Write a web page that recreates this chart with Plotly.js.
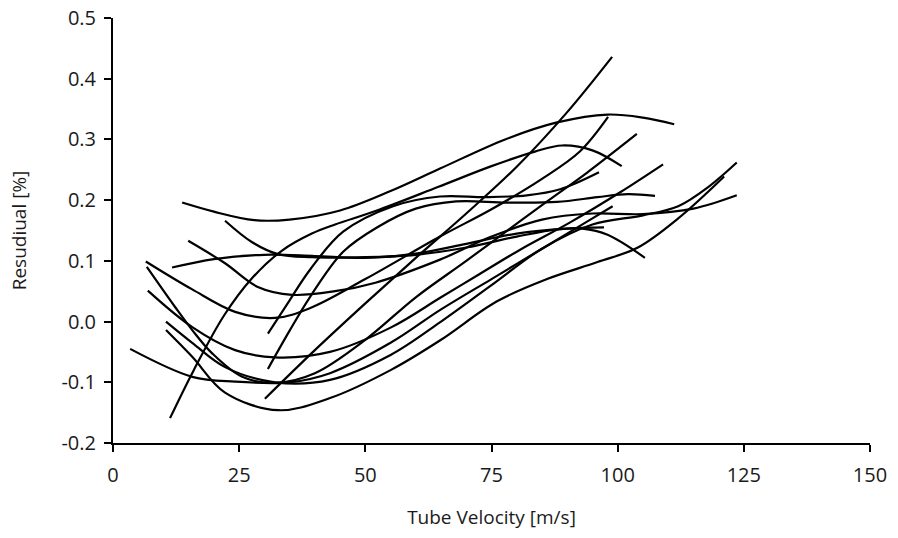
<!DOCTYPE html>
<html><head><meta charset="utf-8">
<script src="https://cdn.plot.ly/plotly-3.0.1.min.js"></script>
<style>html,body{margin:0;padding:0;background:#fff}</style>
</head><body><div id="chart" style="width:898px;height:538px"></div>
<script>
// Residual curves (x: tube velocity m/s, y: residual %)
const c1x = [13.7, 20, 28, 35, 45, 55, 64.8, 77.7, 88, 98, 105, 111.2];
const c1y = [0.196, 0.181, 0.167, 0.168, 0.183, 0.215, 0.252, 0.3, 0.328, 0.341, 0.336, 0.325];
const c2x = [11.3, 16, 22, 27.5, 33.5, 39.4, 44, 52, 64.5, 75, 83.6, 89, 95, 100.8];
const c2y = [-0.159, -0.08, 0.01, 0.071, 0.117, 0.145, 0.16, 0.182, 0.222, 0.256, 0.28, 0.29, 0.282, 0.256];
const c3x = [30.1, 40, 50, 60, 70, 80, 90, 98.9];
const c3y = [-0.127, -0.047, 0.03, 0.105, 0.178, 0.255, 0.345, 0.436];
const c4x = [30.7, 35, 39, 45.6, 55.5, 64.8, 74, 82, 88.6, 96.3];
const c4y = [-0.02, 0.035, 0.085, 0.148, 0.19, 0.206, 0.205, 0.208, 0.218, 0.246];
const c5x = [30.7, 35, 39, 45.6, 52.3, 60, 68, 78, 88, 96, 102, 107.4];
const c5y = [-0.078, -0.015, 0.04, 0.115, 0.155, 0.186, 0.198, 0.196, 0.197, 0.205, 0.21, 0.207];
const c6x = [22.2, 27.5, 32.7, 39.4, 50, 60, 70, 80, 88, 93, 98, 105.4];
const c6y = [0.166, 0.131, 0.111, 0.106, 0.106, 0.11, 0.122, 0.14, 0.152, 0.153, 0.143, 0.105];
const c7x = [11.7, 20, 30, 40, 50, 60, 70, 80, 90, 97.3];
const c7y = [0.089, 0.103, 0.11, 0.108, 0.105, 0.112, 0.128, 0.145, 0.153, 0.155];
const c8x = [14.9, 22.2, 28.7, 35.5, 44, 52, 64.8, 75, 85, 95, 105, 115, 123.6];
const c8y = [0.133, 0.096, 0.057, 0.044, 0.05, 0.064, 0.102, 0.14, 0.168, 0.178, 0.177, 0.186, 0.208];
const c9x = [6.5, 15.7, 24.2, 32.1, 39, 50, 64.8, 75, 85, 92.5, 98.1];
const c9y = [0.099, 0.053, 0.016, 0.006, 0.022, 0.07, 0.14, 0.185, 0.235, 0.28, 0.337];
const c10x = [6.7, 12.3, 15.7, 19.6, 25.6, 32.1, 40, 50, 60, 70, 80.6, 87.2, 93.9, 103.8];
const c10y = [0.09, 0.024, -0.014, -0.052, -0.091, -0.101, -0.085, -0.03, 0.04, 0.1, 0.165, 0.205, 0.245, 0.309];
const c11x = [6.9, 15.7, 24.2, 32.1, 43, 55, 65, 72, 80.6, 90.5, 100.5, 109];
const c11y = [0.051, -0.009, -0.047, -0.059, -0.05, -0.01, 0.04, 0.075, 0.118, 0.163, 0.213, 0.259];
const c12x = [10.5, 15.7, 22.2, 32.1, 43, 55, 65, 75, 85, 95, 105, 112, 118, 123.6];
const c12y = [0.0, -0.035, -0.075, -0.1, -0.096, -0.055, 0.0, 0.06, 0.12, 0.16, 0.175, 0.19, 0.222, 0.262];
const c13x = [10.5, 15.7, 22.2, 32.7, 43, 55, 65, 76, 86, 96, 104, 112, 121.1];
const c13y = [-0.014, -0.058, -0.117, -0.146, -0.126, -0.08, -0.03, 0.033, 0.07, 0.098, 0.122, 0.17, 0.239];
const c14x = [3.4, 15.7, 24.2, 35, 43, 55, 65, 75, 85, 95, 99];
const c14y = [-0.045, -0.091, -0.099, -0.1, -0.085, -0.035, 0.02, 0.07, 0.12, 0.17, 0.19];

const xTicks = [0, 25, 50, 75, 100, 125, 150];
const yTicks = [-0.2, -0.1, 0.0, 0.1, 0.2, 0.3, 0.4, 0.5];

const series = [[c1x,c1y],[c2x,c2y],[c3x,c3y],[c4x,c4y],[c5x,c5y],[c6x,c6y],[c7x,c7y],
  [c8x,c8y],[c9x,c9y],[c10x,c10y],[c11x,c11y],[c12x,c12y],[c13x,c13y],[c14x,c14y]];

const traces = series.map(s => ({
  x: s[0], y: s[1], type: 'scatter', mode: 'lines',
  line: {color: '#000', width: 2.2, shape: 'spline', smoothing: 1},
  showlegend: false, hoverinfo: 'skip'
}));

const fontFam = 'Open Sans, Liberation Sans, sans-serif';
const txt = '#1a1a1a';
const layout = {
  width: 898, height: 538,
  margin: {l: 113, r: 28, t: 18, b: 95},
  paper_bgcolor: '#fff', plot_bgcolor: '#fff',
  font: {family: fontFam, color: txt, size: 20},
  xaxis: {
    range: [0, 150], tickvals: xTicks, ticktext: xTicks.map(String),
    showgrid: false, zeroline: false, showline: true, linecolor: '#000', linewidth: 2,
    ticks: 'outside', ticklen: 7, tickwidth: 2, tickcolor: '#000', ticklabelstandoff: 6,
    tickfont: {family: fontFam, size: 20, color: txt},
    title: {text: 'Tube Velocity [m/s]', font: {family: fontFam, size: 19, color: txt}, standoff: 24}
  },
  yaxis: {
    range: [-0.2, 0.5], tickvals: yTicks, ticktext: yTicks.map(v => v.toFixed(1)),
    showgrid: false, zeroline: false, showline: true, linecolor: '#000', linewidth: 2,
    ticks: 'outside', ticklen: 7, tickwidth: 2, tickcolor: '#000', ticklabelstandoff: 4,
    tickfont: {family: fontFam, size: 20, color: txt},
    title: {text: 'Resudiual [%]', font: {family: fontFam, size: 19, color: txt}, standoff: 30}
  }
};
Plotly.newPlot('chart', traces, layout, {displayModeBar: false, staticPlot: true});
</script></body></html>
